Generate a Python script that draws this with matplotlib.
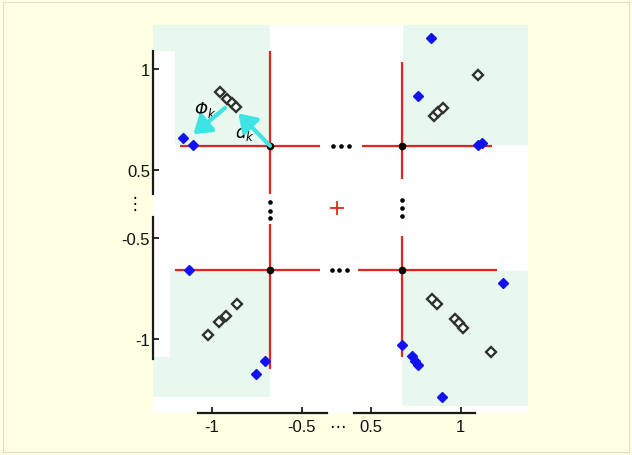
import numpy as np
import matplotlib.pyplot as plt

# --- data (chart units, axis broken around zero) ---
cross_x = [-0.676, 0.674, -0.676, 0.674]
cross_y = [0.62, 0.62, -0.658, -0.658]

# red guide lines of each cross: (y, x0, x1) and (x, y0, y1)
h_y = [0.62, 0.62, -0.658, -0.658]
h_x0 = [-1.176, 0.452, -1.204, 0.431]
h_x1 = [-0.393, 1.172, -0.393, 1.200]
v_x = [-0.676, 0.674, -0.676, 0.674]
v_y0 = [0.284, 0.454, -1.151, -1.091]
v_y1 = [1.091, 1.038, -0.430, -0.489]

blue_x = [-1.158, -1.102, 0.835, 0.764, 1.098, 1.117,
          -1.124, -0.702, -0.754,
          1.237, 0.672, 0.728, 0.746, 0.761, 0.898]
blue_y = [0.658, 0.625, 1.156, 0.869, 0.624, 0.634,
          -0.658, -1.110, -1.176,
          -0.725, -1.032, -1.088, -1.110, -1.130, -1.292]

open_x = [-0.954, -0.915, -0.890, -0.865,
          1.098, 0.852, 0.876, 0.900,
          -1.019, -0.958, -0.922, -0.861,
          0.839, 0.870, 0.968, 0.991, 1.014, 1.168]
open_y = [0.887, 0.852, 0.833, 0.813,
          0.973, 0.766, 0.786, 0.809,
          -0.980, -0.919, -0.886, -0.828,
          -0.803, -0.828, -0.902, -0.924, -0.945, -1.065]

# shaded regions: x0, x1, y0, y1
shade_x0 = [-1.204, -1.328, 0.679, -1.232, -1.328, 0.674]
shade_x1 = [-0.676, -1.204, 1.374, -0.676, -1.232, 1.374]
shade_y0 = [0.6235, 1.091, 0.6235, -1.290, -1.290, -1.335]
shade_y1 = [1.221, 1.221, 1.221, -0.658, -1.091, -0.663]

# ellipsis dots in the gaps
hdots_x = [-0.08, 0.11, 0.31, -0.11, 0.07, 0.25]
hdots_y = [0.62, 0.62, 0.62, -0.658, -0.658, -0.658]
vdots_x = [0.674, 0.674, 0.674, -0.676, -0.676, -0.676]
vdots_y = [0.114, -0.122, -0.350, 0.057, -0.199, -0.398]
origin = (0.01, -0.12)

# arrows d_k and Phi_k: tail -> head
dk_tail, dk_head = (-0.676, 0.62), (-0.852, 0.781)
phi_tail, phi_head = (-0.926, 0.808), (-1.102, 0.678)

xticks = [-1, -0.5, 0.5, 1]
yticks = [-1, -0.5, 0.5, 1]
xticklabels = ['-1', '-0.5', '0.5', '1']
yticklabels = ['-1', '-0.5', '0.5', '1']

XLIM = (-1.328, 1.374)
YLIM = (-1.367, 1.221)


def make_break(b, c):
    k = 1 - c / b

    def fwd(v):
        v = np.asarray(v, float)
        return np.where(np.abs(v) <= b, v * k, v - np.sign(v) * c)

    def inv(u):
        u = np.asarray(u, float)
        return np.where(np.abs(u) <= b * k, u / k, u + np.sign(u) * c)
    return fwd, inv


plt.rcParams['font.family'] = ['Liberation Sans', 'DejaVu Sans']

fig = plt.figure(figsize=(6.32, 4.56), dpi=100)
fig.patch.set_facecolor('#FFFFE3')
fig.add_artist(plt.Rectangle((0.004, 0.006), 0.992, 0.988, transform=fig.transFigure,
                             fill=False, ec='#DEDEC6', lw=0.8))

ax = fig.add_axes([0.2416, 0.0932, 0.5938, 0.8498])
ax.set_xscale('function', functions=make_break(0.4, 0.3083))
ax.set_yscale('function', functions=make_break(0.4, 0.33))
ax.set_xlim(XLIM)
ax.set_ylim(YLIM)
ax.set_facecolor('white')
for s in ax.spines.values():
    s.set_visible(False)

green = '#E8F8EE'
for x0, x1, y0, y1 in zip(shade_x0, shade_x1, shade_y0, shade_y1):
    ax.fill_between([x0, x1], y0, y1, color=green, lw=0, zorder=0.5)

red = '#E8231E'
ax.hlines(h_y, h_x0, h_x1, color=red, lw=1.6, zorder=2)
ax.vlines(v_x, v_y0, v_y1, color=red, lw=1.6, zorder=2)
ax.plot(cross_x, cross_y, 'o', color='black', ms=4.5, zorder=3)

ax.plot(hdots_x, hdots_y, 'o', color='black', ms=2.3, zorder=3)
ax.plot(vdots_x, vdots_y, 'o', color='black', ms=2.3, zorder=3)
ax.plot(*origin, '+', color=red, ms=10, mew=1.3, zorder=3)

ax.plot(open_x, open_y, 'D', mfc='white', mec='#2B352B', ms=4.8, mew=1.7, zorder=3)
ax.plot(blue_x, blue_y, 'D', color='#1212EE', ms=5.5, zorder=3)

cyan = '#3EE4E4'
for tail, head in [(dk_tail, dk_head), (phi_tail, phi_head)]:
    ax.annotate('', xy=head, xytext=tail,
                arrowprops=dict(arrowstyle='-|>,head_length=0.6,head_width=0.4',
                                color=cyan, lw=3, shrinkA=0, shrinkB=0,
                                mutation_scale=17), zorder=4)
ax.text(-1.037, 0.803, 'Φ$_k$', fontsize=12, style='italic', family='DejaVu Sans',
        ha='center', va='center')
ax.text(-0.815, 0.693, r'$d_k$', fontsize=12, ha='center', va='center')

# axis lines, broken around zero
axis_color = '#1A1A1A'
ax.plot([XLIM[0]] * 2, [0.284, 1.092], color=axis_color, lw=1.6, clip_on=False)
ax.plot([XLIM[0]] * 2, [-1.101, -0.370], color=axis_color, lw=1.6, clip_on=False)
ax.plot([-1.076, -0.230], [YLIM[0]] * 2, color=axis_color, lw=1.6, clip_on=False)
ax.plot([0.407, 1.079], [YLIM[0]] * 2, color=axis_color, lw=1.6, clip_on=False)

ax.set_xticks(xticks)
ax.set_xticklabels(xticklabels)
ax.set_yticks(yticks)
ax.set_yticklabels(yticklabels)
ax.minorticks_off()
ax.tick_params(direction='in', length=4.5, width=1.3, color=axis_color,
               labelsize=12, labelcolor='#111111')
ax.tick_params(axis='x', pad=4.5)
ax.tick_params(axis='y', pad=2)

ax.text(0.03, -0.036, '⋯', transform=ax.get_xaxis_transform(),
        ha='center', va='center', fontsize=12, family='DejaVu Sans')
ax.text(-0.047, 0.03, '⋮', transform=ax.get_yaxis_transform(),
        ha='center', va='center', fontsize=12, family='DejaVu Sans')

fig.savefig('out.png', dpi=100, facecolor=fig.get_facecolor())
